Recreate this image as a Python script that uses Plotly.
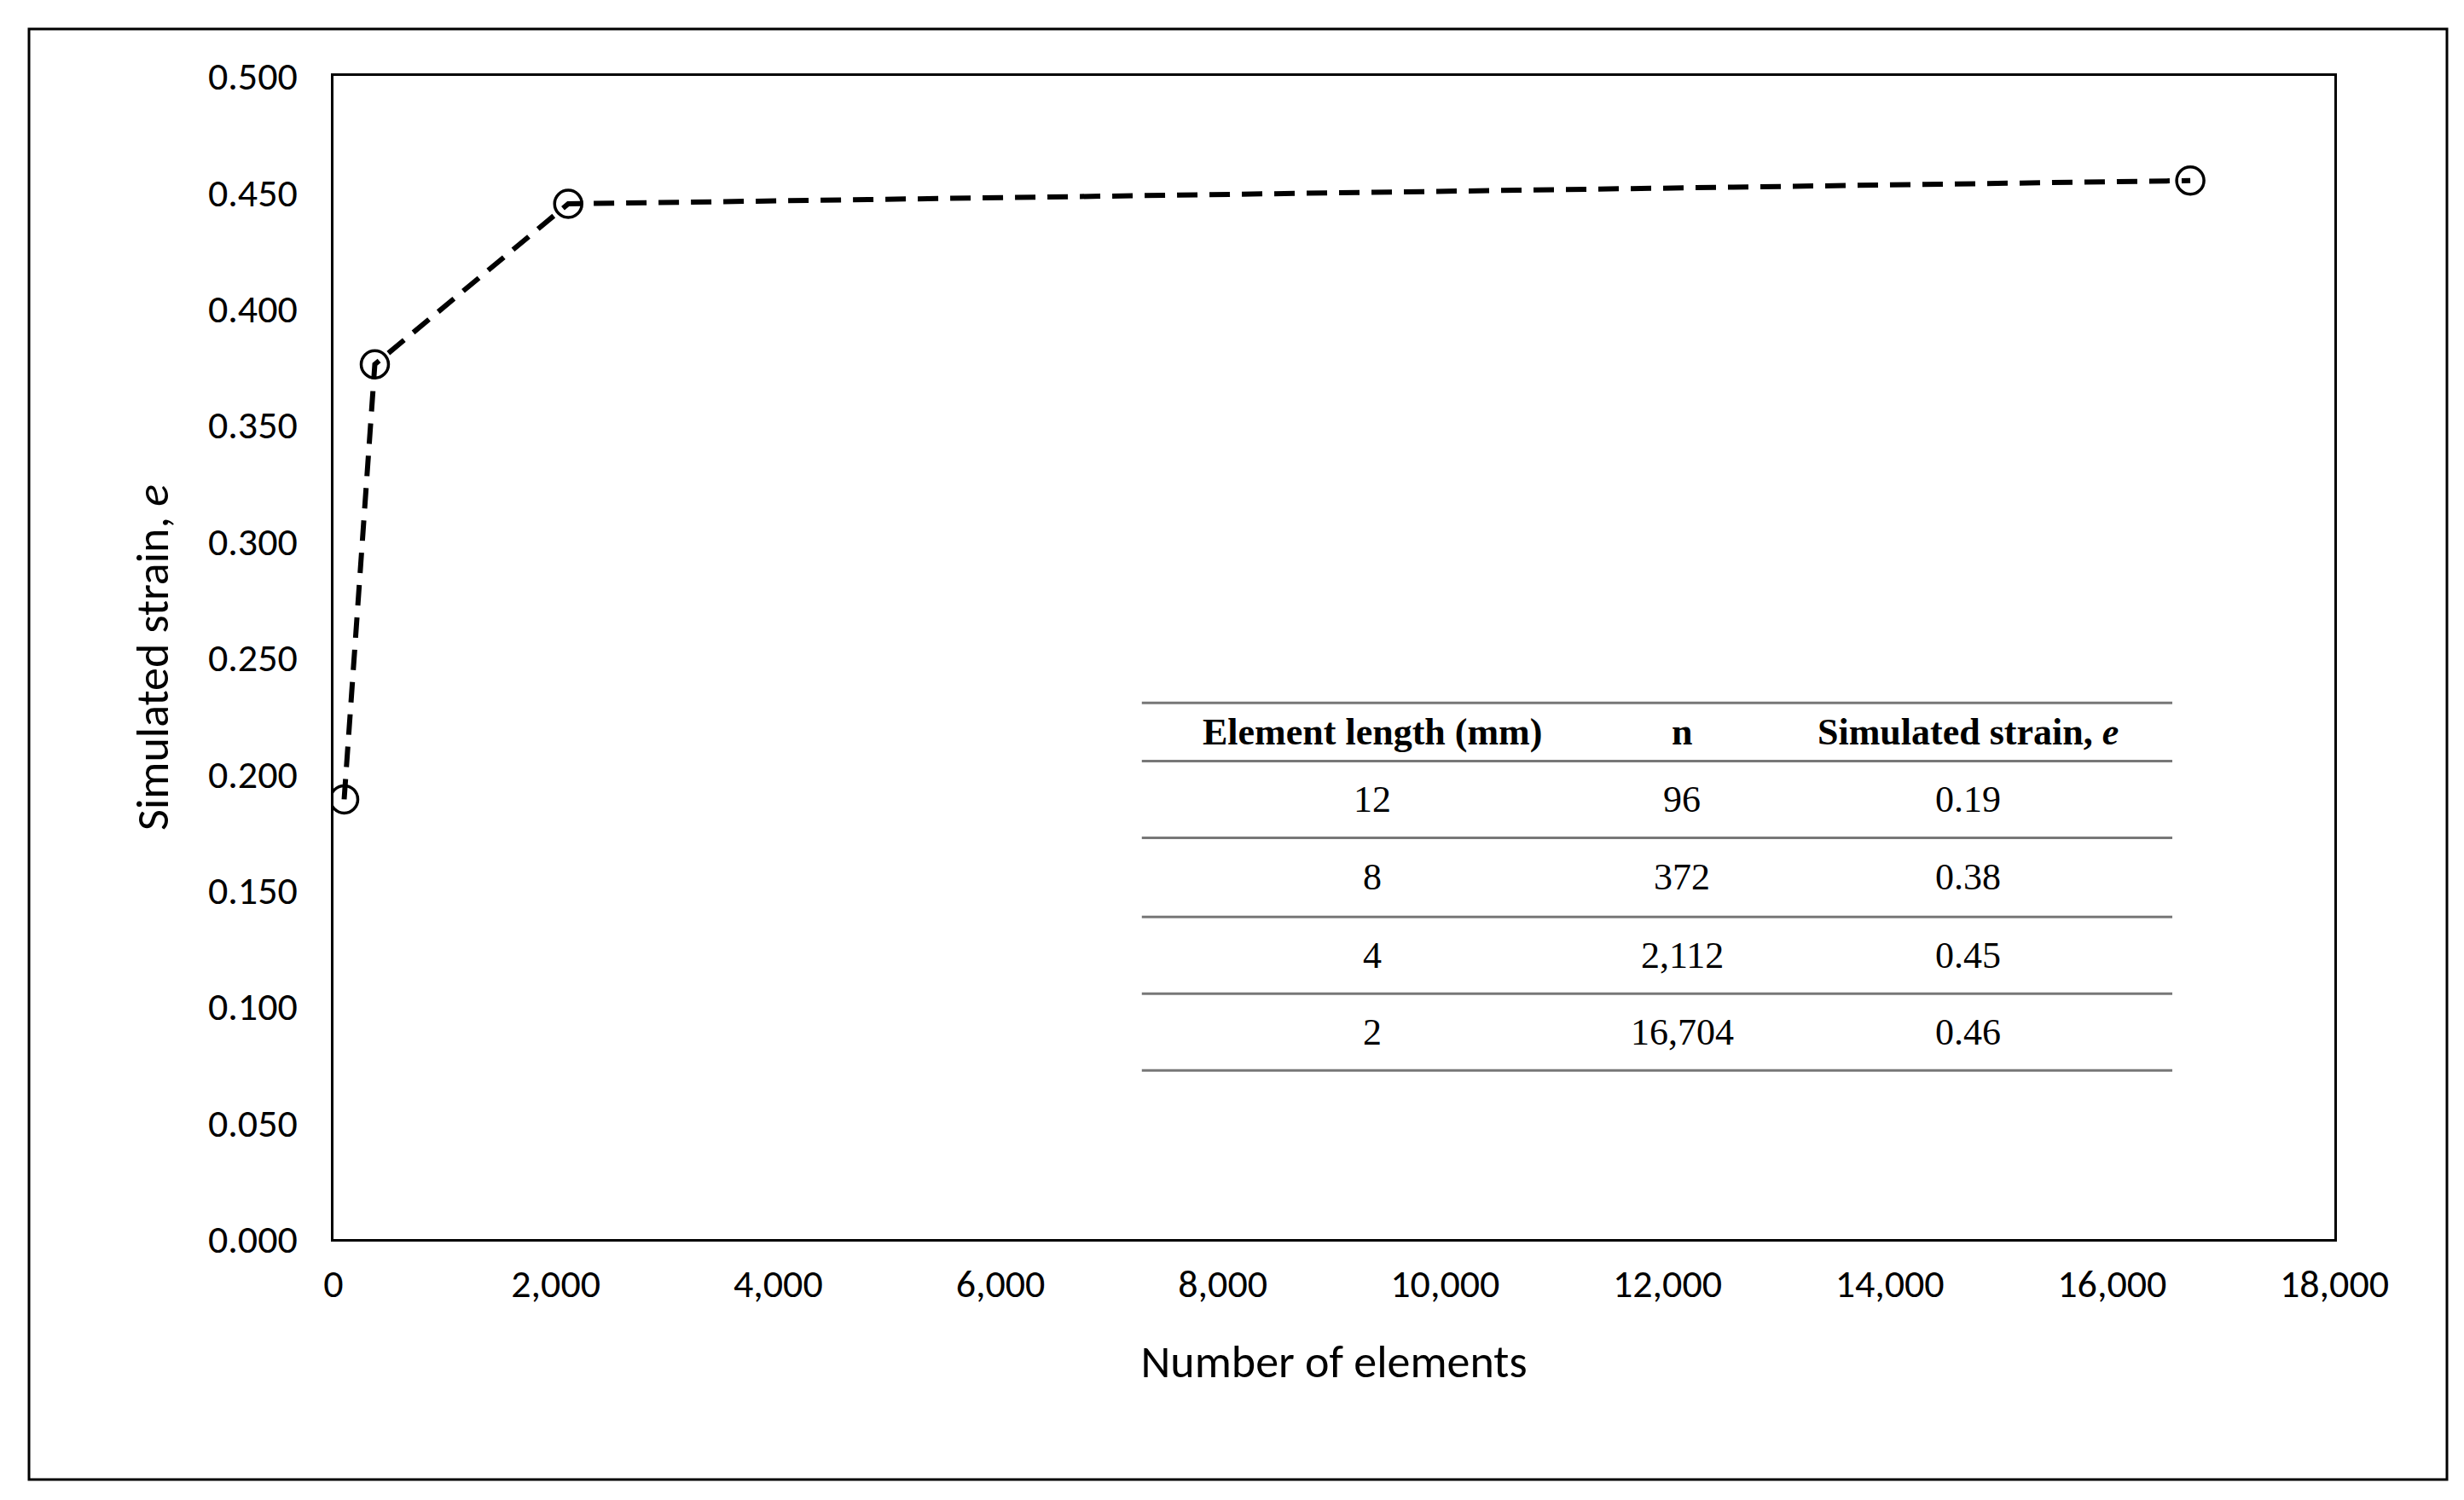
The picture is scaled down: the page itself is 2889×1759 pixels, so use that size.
import plotly.graph_objects as go

n_elements = [96, 372, 2112, 16704]
strain = [0.189, 0.376, 0.445, 0.455]
elem_len = ["12", "8", "4", "2"]
n_labels = ["96", "372", "2,112", "16,704"]
strain_labels = ["0.19", "0.38", "0.45", "0.46"]

fig = go.Figure()
fig.add_trace(go.Scatter(x=n_elements, y=strain, mode="lines+markers",
    line=dict(color="black", width=6, dash="24px,14px"),
    marker=dict(symbol="circle-open", size=32, color="black", line=dict(width=3.5))))

W, H = 2889, 1759
L, R, T, B = 383, 2729, 81, 1445
font = "Calibri, Carlito, 'Open Sans', sans-serif"
fig.update_layout(
    width=W, height=H, paper_bgcolor="white", plot_bgcolor="white",
    margin=dict(l=L, r=W - R, t=T, b=H - B), showlegend=False,
    font=dict(family=font, size=46, color="black"),
    xaxis=dict(range=[0, 18000], dtick=2000, tickformat=",d", showgrid=False,
               showline=True, linecolor="black", linewidth=3, mirror=True,
               ticks="outside", ticklen=10, tickcolor="white", tickfont=dict(size=46),
               title=dict(text="Number of elements", font=dict(size=54), standoff=45)),
    yaxis=dict(range=[0, 0.5], dtick=0.05, tickformat=".3f", showgrid=False,
               showline=True, linecolor="black", linewidth=3, mirror=True,
               ticks="outside", ticklen=30, tickcolor="white", tickfont=dict(size=46),
               title=dict(text="Simulated strain, <i>e</i>", font=dict(size=54), standoff=30)),
)
fig.add_shape(type="rect", xref="paper", yref="paper",
    x0=(26 - L) / (R - L), x1=(2861 - L) / (R - L),
    y0=(B - 1727) / (B - T), y1=(B - 26) / (B - T),
    line=dict(color="black", width=3))

tx0, tx1 = 0.404, 0.919
for yv in [0.461, 0.411, 0.345, 0.277, 0.211, 0.145]:
    fig.add_shape(type="line", xref="paper", yref="paper", x0=tx0, x1=tx1, y0=yv, y1=yv,
                  line=dict(color="#777", width=3))
serif = "Liberation Serif, serif"
cols = [0.519, 0.674, 0.817]
heads = ["<b>Element length (mm)</b>", "<b>n</b>", "<b>Simulated strain, <i>e</i></b>"]
for c, h in zip(cols, heads):
    fig.add_annotation(xref="paper", yref="paper", x=c, y=0.436, text=h, showarrow=False,
                       xanchor="center", yanchor="middle", font=dict(family=serif, size=44))
rows_y = [0.378, 0.311, 0.244, 0.178]
for i, ry in enumerate(rows_y):
    for c, t in zip(cols, [elem_len[i], n_labels[i], strain_labels[i]]):
        fig.add_annotation(xref="paper", yref="paper", x=c, y=ry, text=t, showarrow=False,
                           xanchor="center", yanchor="middle", font=dict(family=serif, size=44))

fig.write_html("out.html")
